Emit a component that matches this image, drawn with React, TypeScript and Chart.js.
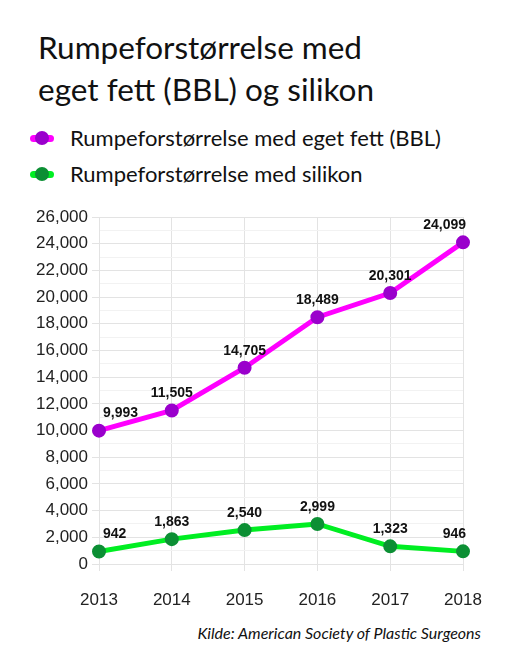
import { useEffect, useRef } from 'react'
import { Chart, registerables, type Plugin } from 'chart.js'

Chart.register(...registerables)

const YEARS = ['2013', '2014', '2015', '2016', '2017', '2018']
const BBL = [9993, 11505, 14705, 18489, 20301, 24099]
const SILIKON = [942, 1863, 2540, 2999, 1323, 946]

const BBL_LABEL = 'Rumpeforstørrelse med eget fett (BBL)'
const SIL_LABEL = 'Rumpeforstørrelse med silikon'

const MAGENTA = '#ff00ff'
const PURPLE = '#9a00cc'
const GREEN = '#00ee22'
const DARK_GREEN = '#0c8f34'
const GRID = '#e3e3e3'
const GRID_MINOR = '#f2f2f2'

const HUMANIST = "'Lato', 'Open Sans', sans-serif"

// draws the value above each point; first/last shifted inwards
const valueLabels: Plugin<'line'> = {
  id: 'valueLabels',
  afterDatasetsDraw(chart) {
    const ctx = chart.ctx
    ctx.save()
    ctx.font = "bold 14px 'Liberation Sans', Arial, sans-serif"
    ctx.fillStyle = '#111'
    ctx.textBaseline = 'middle'
    chart.data.datasets.forEach((ds, di) => {
      const meta = chart.getDatasetMeta(di)
      meta.data.forEach((pt, i) => {
        const v = ds.data[i] as number
        const last = meta.data.length - 1
        let x = pt.x
        if (i === 0) { ctx.textAlign = 'left'; x += 4 }
        else if (i === last) { ctx.textAlign = 'right'; x += 3 }
        else ctx.textAlign = 'center'
        ctx.fillText(v.toLocaleString('en-US'), x, pt.y - 17)
      })
    })
    ctx.restore()
  },
}

function LegendMark({ line, dot }: { line: string; dot: string }) {
  return (
    <span style={{ position: 'relative', display: 'inline-block', width: 24, height: 14, marginRight: 16 }}>
      <span style={{ position: 'absolute', left: 0, top: 4, width: 24, height: 7, borderRadius: 4, background: line }} />
      <span style={{ position: 'absolute', left: 5, top: 0, width: 14, height: 14, borderRadius: 7, background: dot }} />
    </span>
  )
}

export default function App() {
  const canvasRef = useRef<HTMLCanvasElement>(null)
  const chartRef = useRef<Chart | null>(null)

  useEffect(() => {
    document.body.style.margin = '0'
    if (!canvasRef.current) return

    chartRef.current = new Chart(canvasRef.current, {
      type: 'line',
      data: {
        labels: YEARS,
        datasets: [
          {
            label: BBL_LABEL,
            data: BBL,
            borderColor: MAGENTA,
            borderWidth: 5,
            pointBackgroundColor: PURPLE,
            pointBorderColor: PURPLE,
            pointRadius: 4.5,
            tension: 0,
          },
          {
            label: SIL_LABEL,
            data: SILIKON,
            borderColor: GREEN,
            borderWidth: 5,
            pointBackgroundColor: DARK_GREEN,
            pointBorderColor: DARK_GREEN,
            pointRadius: 4.5,
            tension: 0,
          },
        ],
      },
      options: {
        animation: false,
        responsive: false,
        layout: { padding: { left: 0, right: 45, top: 17, bottom: 0 } },
        plugins: {
          legend: { display: false },
          tooltip: { enabled: false },
        },
        scales: {
          x: {
            grid: { color: GRID, tickLength: 7 },
            border: { color: GRID },
            ticks: {
              color: '#222',
              padding: 19,
              font: { family: "'Liberation Sans', Arial, sans-serif", size: 17 },
            },
            afterFit: (s) => { s.height = 56 },
          },
          y: {
            min: 0,
            max: 26000,
            grid: {
              color: (c) => ((c.tick?.value ?? 0) % 2000 === 0 ? GRID : GRID_MINOR),
              tickColor: (c) => ((c.tick?.value ?? 0) % 2000 === 0 ? GRID : 'transparent'),
              tickLength: 7,
            },
            border: { color: GRID },
            ticks: {
              stepSize: 1000,
              autoSkip: false,
              color: '#222',
              padding: 4,
              font: { family: "'Liberation Sans', Arial, sans-serif", size: 17 },
              callback: (v) => (Number(v) % 2000 === 0 ? Number(v).toLocaleString('en-US') : ''),
            },
            afterFit: (s) => { s.width = 99 },
          },
        },
      },
      plugins: [valueLabels],
    })

    return () => {
      chartRef.current?.destroy()
      chartRef.current = null
    }
  }, [])

  return (
    <div style={{ position: 'relative', width: 508, height: 670, background: '#fff', fontFamily: HUMANIST, color: '#111' }}>
      <div style={{ position: 'absolute', left: 38, top: 26, fontSize: 31.5, lineHeight: '42px' }}>
        Rumpeforstørrelse med<br />eget fett (BBL) og silikon
      </div>
      <div style={{ position: 'absolute', left: 30, top: 124, fontSize: 22, lineHeight: '28px' }}>
        <div style={{ display: 'flex', alignItems: 'center', height: 28 }}>
          <LegendMark line={MAGENTA} dot={PURPLE} />{BBL_LABEL}
        </div>
        <div style={{ display: 'flex', alignItems: 'center', height: 28, marginTop: 8 }}>
          <LegendMark line={GREEN} dot={DARK_GREEN} />{SIL_LABEL}
        </div>
      </div>
      <canvas ref={canvasRef} width={508} height={420} style={{ position: 'absolute', left: 0, top: 200 }} />
      <div style={{ position: 'absolute', right: 27, top: 623, fontSize: 16, fontStyle: 'italic' }}>
        Kilde: American Society of Plastic Surgeons
      </div>
    </div>
  )
}
